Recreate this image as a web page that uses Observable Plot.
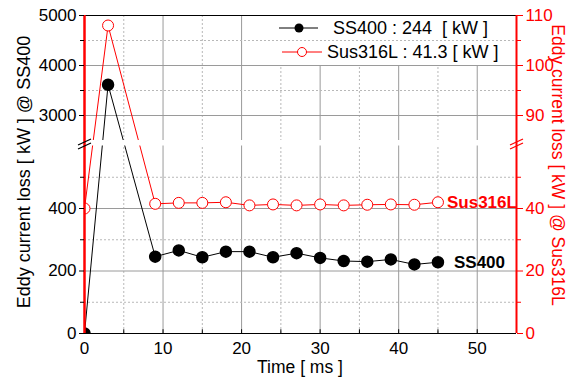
<!DOCTYPE html>
<html>
<head>
<meta charset="utf-8">
<script src="https://cdn.jsdelivr.net/npm/d3@7"></script>
<script src="https://cdn.jsdelivr.net/npm/@observablehq/plot@0.6"></script>
<style>
  html, body { margin: 0; padding: 0; background: #fff; }
  #wrap { position: relative; width: 574px; height: 377px; font-family: "Liberation Sans", Arial, sans-serif; }
  #wrap svg { position: absolute; left: 0; top: 0; }
  #overlay { pointer-events: none; }
</style>
</head>
<body>
<div id="wrap"></div>
<script>
// ---- data ----
const times = [0, 3, 9, 12, 15, 18, 21, 24, 27, 30, 33, 36, 39, 42, 45];
const ss400 = [0, 3615, 246, 266, 244, 262, 262, 244, 257, 242, 232, 230, 237, 221, 228];
const sus316L = [40, 108, 41.5, 41.8, 41.8, 42.0, 41.0, 41.3, 41.0, 41.3, 41.0, 41.2, 41.3, 41.2, 42.0];
const seriesNames = ["SS400", "Sus316L"];
const legendLabels = ["SS400 : 244  [ kW ]", "Sus316L : 41.3 [ kW ]"];
const xTicks = [0, 10, 20, 30, 40, 50];
const xMinor = [5, 15, 25, 35, 45];
const leftTicks = [0, 200, 400, 3000, 4000, 5000];
const leftMinor = [100, 300, 500, 3500, 4500];
const rightTicks = [0, 20, 40, 90, 100, 110];
const rightMinor = [10, 30, 50, 95, 105];

// broken axis: lower segment 0..600, gap, upper segment 2500..5000 (compressed)
const LOW = 600, HIGH = 2500, GAP = 17.6, K = 0.16;
const brk = v => v <= LOW ? v : v >= HIGH ? LOW + GAP + (v - HIGH) * K : LOW + GAP * (v - LOW) / (HIGH - LOW);
const unbrk = u => u <= LOW ? u : HIGH + (u - LOW - GAP) / K;
// right-axis (Sus316L) units -> left units
const r2l = r => r <= 60 ? r * 10 : 3000 + (r - 90) * 100;
const l2r = l => l <= 600 ? l / 10 : 90 + (l - 3000) / 100;

const ssData = times.map((t, i) => ({t, u: brk(ss400[i])}));
const susData = times.map((t, i) => ({t, u: brk(r2l(sus316L[i]))}));
const TOP = brk(5000);

const font = "Liberation Sans, Arial, sans-serif";
const gridMajor = "#9a9a9a";
const gridMinor = "#b8b8b8";

const chart = Plot.plot({
  width: 574,
  height: 377,
  marginLeft: 84, marginRight: 58, marginTop: 15, marginBottom: 44,
  style: {fontFamily: font, fontSize: "17px", background: "transparent", overflow: "visible"},
  x: {domain: [0, 55], range: [84, 516]},
  y: {domain: [0, TOP], range: [333, 15]},
  marks: [
    // grid
    Plot.ruleX(xMinor, {y1: 0, y2: d => d >= 25 ? brk(4000) : TOP, stroke: gridMinor, strokeDasharray: "2,2"}),
    Plot.ruleX(xTicks.filter(d => d > 0), {y1: 0, y2: d => d >= 25 ? brk(4000) : TOP, stroke: gridMajor}),
    Plot.ruleY(leftMinor.map(brk), {x1: 0, x2: 55, stroke: gridMinor, strokeDasharray: "2,2"}),
    Plot.ruleY(leftTicks.filter(d => d > 0 && d < 5000).map(brk), {x1: 0, x2: 55, stroke: gridMajor}),
    // series lines
    Plot.line(ssData, {x: "t", y: "u", stroke: "black", strokeWidth: 1}),
    Plot.line(susData, {x: "t", y: "u", stroke: "red", strokeWidth: 1}),
    // axis break gap
    Plot.rect([0], {x1: 0.1, x2: 54.9, y1: brk(LOW), y2: brk(HIGH), fill: "white"}),
    // markers
    Plot.dot(ssData, {x: "t", y: "u", r: 5.5, fill: "black", stroke: "black", clip: true}),
    Plot.dot(susData, {x: "t", y: "u", r: 5.5, fill: "white", stroke: "red", strokeWidth: 1, clip: true}),
    // end labels
    Plot.text(ssData.slice(-1), {x: "t", y: "u", text: () => seriesNames[0], dx: 16, textAnchor: "start", fontWeight: "bold", fontSize: 17, fill: "black"}),
    Plot.text(susData.slice(-1), {x: "t", y: "u", text: () => seriesNames[1], dx: 9, textAnchor: "start", fontWeight: "bold", fontSize: 17, fill: "red"}),
    // frame lines
    Plot.ruleY([TOP], {x1: 0, x2: 55, stroke: "black"}),
    Plot.ruleY([0], {x1: 0, x2: 55, stroke: "black"}),
    Plot.ruleX([...xTicks, ...xMinor].filter(d => d > 0), {y1: 0, y2: 12, stroke: "black"}),
    Plot.ruleX([0], {y1: 0, y2: TOP, stroke: "red", strokeWidth: 2.5}),
    Plot.ruleX([55], {y1: 0, y2: TOP, stroke: "red", strokeWidth: 2}),
    // axes
    Plot.axisX({ticks: xTicks, tickSize: 0, tickPadding: 8, fontSize: 17, label: null, fill: "black", tickFormat: d => String(d)}),
    Plot.axisY({ticks: leftTicks.map(brk), anchor: "left", tickSize: 5, tickPadding: 3, fontSize: 17, label: null, fill: "black", stroke: "black", tickFormat: d => String(Math.round(unbrk(d)))}),
    Plot.axisY({ticks: leftMinor.map(brk), anchor: "left", tickSize: 4, tickFormat: () => "", label: null, stroke: "black"}),
    Plot.axisY({ticks: rightTicks.map(r => brk(r2l(r))), anchor: "right", tickSize: 6, tickPadding: 3, fontSize: 17, label: null, tickFormat: d => String(Math.round(l2r(unbrk(d)))), fill: "red", stroke: "red"}),
    Plot.axisY({ticks: rightMinor.map(r => brk(r2l(r))), anchor: "right", tickSize: 4, tickFormat: () => "", label: null, stroke: "red"})
  ]
});

const wrap = document.getElementById("wrap");
wrap.appendChild(chart);

// overlay: legend, axis titles, break marks
const ns = "http://www.w3.org/2000/svg";
const ov = document.createElementNS(ns, "svg");
ov.setAttribute("id", "overlay");
ov.setAttribute("width", 574);
ov.setAttribute("height", 377);
ov.style.fontFamily = font;
function el(name, attrs, text) {
  const e = document.createElementNS(ns, name);
  for (const k in attrs) e.setAttribute(k, attrs[k]);
  if (text != null) e.textContent = text;
  ov.appendChild(e);
  return e;
}
// legend
el("line", {x1: 279, x2: 318, y1: 28, y2: 28, stroke: "black", "stroke-width": 1});
el("circle", {cx: 299, cy: 28, r: 4.5, fill: "black"});
el("text", {x: 333, y: 28, "dominant-baseline": "central", "font-size": 18, fill: "black", style: "white-space:pre"}, legendLabels[0]);
el("line", {x1: 282, x2: 322, y1: 52, y2: 52, stroke: "red", "stroke-width": 1});
el("circle", {cx: 302, cy: 52, r: 4.5, fill: "white", stroke: "red"});
el("text", {x: 327, y: 52, "dominant-baseline": "central", "font-size": 18, fill: "black", style: "white-space:pre"}, legendLabels[1]);
// axis titles
el("text", {x: 300, y: 366.5, "text-anchor": "middle", "dominant-baseline": "central", "font-size": 17.5, fill: "black"}, "Time [ ms ]");
el("text", {transform: "translate(24,172) rotate(-90)", "text-anchor": "middle", "dominant-baseline": "central", "font-size": 18, fill: "black"}, "Eddy current loss [ kW ] @ SS400");
el("text", {transform: "translate(558,165) rotate(90)", "text-anchor": "middle", "dominant-baseline": "central", "font-size": 17.5, fill: "red"}, "Eddy current loss [ kW ] @ Sus316L");
// break marks
el("line", {x1: 78, y1: 145, x2: 91, y2: 139, stroke: "black", "stroke-width": 1.3});
el("line", {x1: 78, y1: 149, x2: 91, y2: 143, stroke: "black", "stroke-width": 1.3});
el("line", {x1: 510, y1: 145, x2: 523, y2: 139, stroke: "red", "stroke-width": 1.3});
el("line", {x1: 510, y1: 149, x2: 523, y2: 143, stroke: "red", "stroke-width": 1.3});
wrap.appendChild(ov);
</script>
</body>
</html>
